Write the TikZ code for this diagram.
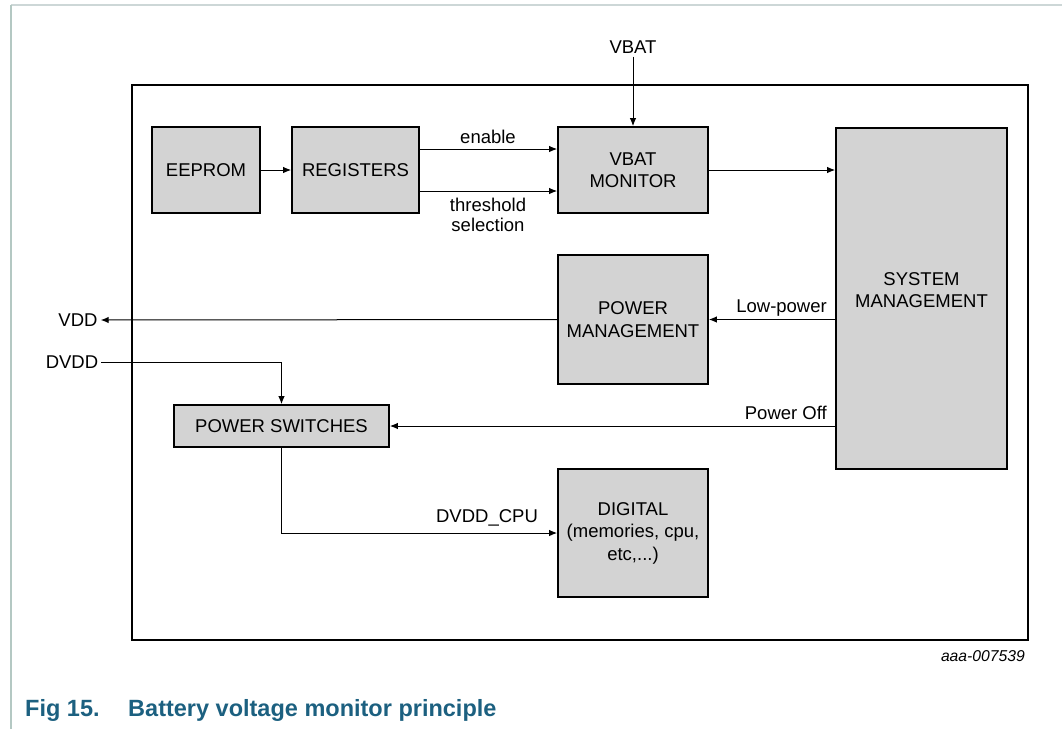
\documentclass[tikz,border=0pt]{standalone}
\usepackage{fontspec}
\setmainfont{Liberation Sans}
\usetikzlibrary{arrows.meta}
\definecolor{boxgray}{RGB}{211,211,211}
\definecolor{captionteal}{RGB}{28,96,128}
\definecolor{framegray}{RGB}{180,200,195}
\definecolor{toplinegray}{RGB}{205,215,215}
\begin{document}
\begin{tikzpicture}[x=1pt,y=-1pt,
  blk/.style={draw=black, line width=1.8pt, fill=boxgray, align=center, inner sep=0pt,
              font=\fontsize{18.5}{22.5}\selectfont},
  lbl/.style={font=\fontsize{18.5}{20}\selectfont, inner sep=0pt, align=center},
  conn/.style={line width=1pt, -{Latex[length=8pt,width=6.5pt]}}
]
\useasboundingbox (0,0) rectangle (1062,729);
% page frame
\draw[toplinegray, line width=1.5pt] (11,5) -- (1062,5);
\draw[framegray, line width=2pt] (11,5) -- (11,729);
% outer box
\draw[line width=1.8pt] (132,85) rectangle (1028,640);
% blocks
\node[blk, minimum width=108pt, minimum height=86pt] (eeprom) at (206,170) {EEPROM};
\node[blk, minimum width=127pt, minimum height=86pt] (reg) at (355.5,170) {REGISTERS};
\node[blk, minimum width=150pt, minimum height=86pt] (vbat) at (633,170) {VBAT\\MONITOR};
\node[blk, minimum width=171pt, minimum height=341pt] (sys) at (921.5,298.5) {};
\node[lbl, font=\fontsize{18.5}{22.5}\selectfont] (systxt) at (921.5,290) {SYSTEM\\MANAGEMENT};
\node[blk, minimum width=150pt, minimum height=129pt] (pm) at (633,319.5) {POWER\\MANAGEMENT};
\node[blk, minimum width=215pt, minimum height=42pt] (ps) at (281.5,426) {POWER SWITCHES};
\node[blk, minimum width=150pt, minimum height=128pt] (dig) at (633,533) {DIGITAL\\(memories, cpu,\\etc,...)};
% external labels
\node[lbl, inner sep=3pt] (vbatin) at (633,47) {VBAT};
\node[lbl, inner sep=3pt] (vdd) at (78,320) {VDD};
\node[lbl, inner sep=3pt] (dvdd) at (72,362) {DVDD};
% connectors
\draw[conn] (eeprom.east) -- (reg.west);
\draw[conn] ([yshift=21pt]reg.east) -- ([yshift=21pt]vbat.west);
\draw[conn] ([yshift=-21pt]reg.east) -- ([yshift=-21pt]vbat.west);
\draw[conn] (vbat.east) -- (vbat.east -| sys.west);
\draw[conn] (vbatin.south) -- (vbat.north);
\draw[conn] (sys.west |- pm.east) -- (pm.east);
\draw[conn] (pm.west) -- (vdd.east);
\draw[conn] (dvdd.east) -| (ps.north);
\draw[conn] (sys.west |- ps.east) -- (ps.east);
\draw[conn] (ps.south) |- (dig.west);
% connector labels
\node[lbl] (enlbl) at (488,137) {enable};
\node[lbl] (thlbl) at (488,215) {threshold\\selection};
\node[lbl, anchor=east] (lplbl) at (827,308) {Low-power};
\node[lbl, anchor=east] (polbl) at (827,413) {Power Off};
\node[lbl] (cpulbl) at (487,518) {DVDD\_CPU};
% figure id
\node[inner sep=0pt, anchor=east, font=\fontsize{15.7}{18}\selectfont\itshape] (figid) at (1025,656) {aaa-007539};
% caption
\node[inner sep=0pt, anchor=west, text=captionteal, font=\fontsize{23.5}{26}\selectfont\bfseries] (cap) at (25,710) {Fig 15.\hspace{28.6pt}Battery voltage monitor principle};
\end{tikzpicture}
\end{document}
